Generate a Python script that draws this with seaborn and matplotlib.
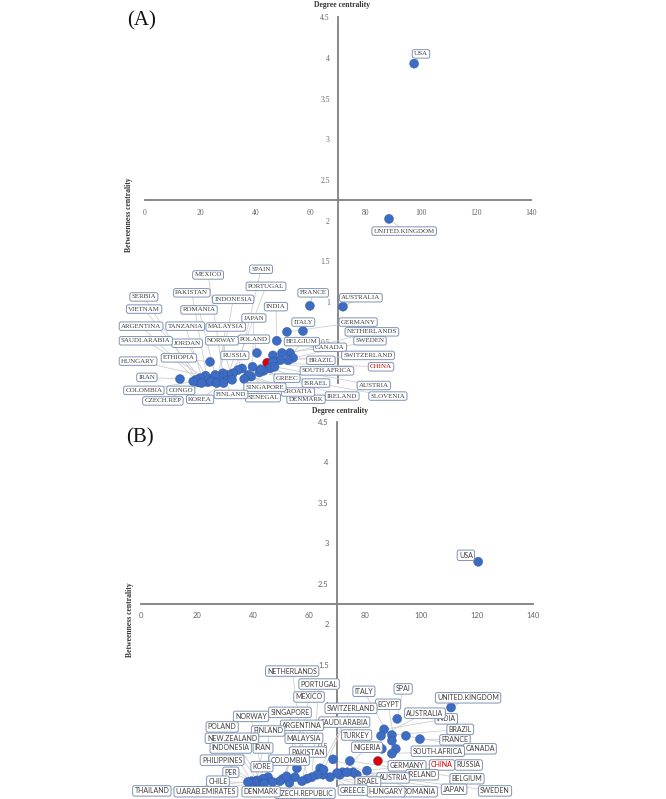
import matplotlib
matplotlib.use("Agg")
import matplotlib.pyplot as plt
import seaborn as sns
import pandas as pd

# ---------------- Panel A data ----------------
countries_a = ["USA", "UNITED.KINGDOM", "AUSTRALIA", "FRANCE", "ITALY", "GERMANY", "INDIA",
               "POLAND", "NETHERLANDS", "SWEDEN", "CANADA", "BELGIUM", "SWITZERLAND", "BRAZIL",
               "CHINA", "SOUTH.AFRICA", "ISRAEL", "AUSTRIA", "IRELAND", "SLOVENIA", "DENMARK",
               "CROATIA", "GREEC", "SINGAPORE", "SENEGAL", "SPAIN", "PORTUGAL", "JAPAN", "RUSSIA",
               "FINLAND", "MEXICO", "INDONESIA", "MALAYSIA", "NORWAY", "ETHIOPIA", "HUNGARY",
               "ROMANIA", "PAKISTAN", "TANZANIA", "JORDAN", "SERBIA", "VIETNAM", "ARGENTINA",
               "SAUDI.ARABIA", "IRAN", "COLOMBIA", "CONGO", "KOREA", "CZECH.REP"]
degree_a = [97.6, 88.5, 71.8, 59.8, 57.3, 51.5, 47.8,
            40.6, 52.6, 53.7, 49.7, 51.9, 49.0, 46.4,
            44.3, 46.4, 45.3, 47.0, 43.0, 41.5, 38.5,
            37.4, 42.0, 35.2, 36.0, 33.7, 31.9, 39.0, 30.1,
            29.0, 28.3, 27.0, 26.5, 31.6, 23.6, 24.7,
            25.5, 22.8, 21.0, 22.0, 19.2, 20.0, 18.5,
            24.0, 12.7, 17.5, 26.0, 28.5, 20.5]
betweenness_a = [3.93, 2.02, 0.94, 0.95, 0.64, 0.63, 0.52,
                 0.37, 0.37, 0.31, 0.37, 0.28, 0.28, 0.34,
                 0.25, 0.26, 0.18, 0.20, 0.15, 0.13, 0.08,
                 0.10, 0.17, 0.18, 0.05, 0.16, 0.12, 0.20, 0.10,
                 0.05, 0.12, 0.08, 0.04, 0.04, 0.26, 0.06,
                 0.10, 0.01, 0.04, 0.09, 0.01, 0.06, 0.04,
                 0.02, 0.05, 0.02, 0.00, 0.00, 0.00]
# label placement (layout)
lab_x_a = [100.1, 94.0, 78.3, 61.0, 57.4, 77.3, 47.5,
           39.5, 82.3, 81.6, 67.1, 56.9, 80.9, 63.8,
           85.6, 66.0, 62.0, 83.0, 71.5, 88.1, 58.4,
           55.5, 51.5, 43.5, 42.8, 42.1, 43.9, 39.5, 32.6,
           31.2, 22.9, 32.0, 29.3, 27.9, 12.3, -2.5,
           19.6, 17.0, 14.6, 15.3, -0.4, -0.3, -1.4,
           0.3, 0.7, -0.4, 13.0, 20.0, 6.5]
lab_y_a = [4.05, 1.87, 1.05, 1.11, 0.75, 0.75, 0.94,
           0.54, 0.63, 0.52, 0.44, 0.51, 0.34, 0.28,
           0.20, 0.15, 0.00, -0.03, -0.16, -0.16, -0.20,
           -0.11, 0.06, -0.05, -0.18, 1.40, 1.19, 0.80, 0.34,
           -0.14, 1.33, 1.03, 0.69, 0.52, 0.31, 0.27,
           0.90, 1.11, 0.70, 0.49, 1.06, 0.91, 0.70,
           0.52, 0.07, -0.09, -0.09, -0.20, -0.22]

# ---------------- Panel B data ----------------
countries_b = ["USA", "UNITED.KINGDOM", "FRANCE", "CANADA", "SPAI", "BRAZIL", "INDIA",
               "AUSTRALIA", "ITALY", "EGYPT", "SOUTH.AFRICA", "TURKEY", "CHINA", "GERMANY",
               "RUSSIA", "IRELAND", "BELGIUM", "NIGERIA", "AUSTRIA", "SWEDEN", "JAPAN",
               "ROMANIA", "ISRAEL", "HUNGARY", "GREECE", "SWITZERLAND", "SAUDI.ARABIA",
               "PORTUGAL", "NETHERLANDS", "MEXICO", "SINGAPORE", "ARGENTINA", "MALAYSIA",
               "PAKISTAN", "CZECH.REPUBLIC", "COLOMBIA", "FINLAND", "NORWAY", "IRAN", "KORE",
               "DENMARK", "POLAND", "NEW.ZEALAND", "INDONESIA", "PHILIPPINES", "PER", "CHILE",
               "U.ARAB.EMIRATES", "THAILAND"]
degree_b = [120.4, 110.7, 99.6, 94.6, 91.5, 89.6, 86.8,
            85.7, 89.6, 91.0, 89.6, 86.0, 84.6, 80.7,
            77.0, 75.7, 74.6, 72.0, 71.0, 73.6, 70.0,
            68.6, 67.5, 65.0, 64.0, 65.2, 62.9,
            61.0, 59.3, 55.7, 55.0, 50.7, 49.6,
            57.5, 53.0, 52.0, 45.4, 43.6, 41.4, 47.0,
            40.2, 42.0, 44.0, 39.5, 41.0, 40.5, 39.5,
            38.8, 38.2]
betweenness_b = [2.77, 0.97, 0.58, 0.62, 0.83, 0.63, 0.70,
                 0.62, 0.56, 0.46, 0.40, 0.46, 0.31, 0.19,
                 0.14, 0.17, 0.31, 0.17, 0.14, 0.17, 0.16,
                 0.33, 0.11, 0.14, 0.22, 0.20, 0.14,
                 0.11, 0.09, 0.22, 0.11, 0.09, 0.06,
                 0.06, 0.04, 0.12, 0.11, 0.09, 0.07, 0.05,
                 0.05, 0.04, 0.03, 0.06, 0.03, 0.05, 0.04,
                 0.03, 0.05]
lab_x_b = [116.0, 116.8, 112.1, 121.0, 93.6, 114.0, 109.0,
           101.4, 79.6, 88.2, 106.0, 77.0, 107.5, 95.0,
           117.0, 100.4, 116.4, 80.7, 90.0, 126.4, 111.8,
           99.3, 81.0, 87.5, 75.7, 75.0, 72.6,
           63.6, 54.0, 60.0, 53.2, 57.5, 58.2,
           59.6, 58.6, 52.9, 45.4, 39.3, 43.6, 43.2,
           42.9, 29.0, 32.5, 32.1, 29.0, 32.1, 27.5,
           23.2, 3.9]
lab_y_b = [2.85, 1.09, 0.57, 0.46, 1.20, 0.70, 0.83,
           0.90, 1.17, 1.01, 0.43, 0.63, 0.26, 0.25,
           0.26, 0.14, 0.09, 0.48, 0.10, -0.06, -0.04,
           -0.07, 0.05, -0.07, -0.05, 0.96, 0.79,
           1.26, 1.42, 1.10, 0.91, 0.75, 0.59,
           0.42, -0.09, 0.32, 0.68, 0.86, 0.47, 0.24,
           -0.07, 0.73, 0.59, 0.47, 0.32, 0.17, 0.06,
           -0.07, -0.06]

x_ticks = [0, 20, 40, 60, 80, 100, 120, 140]
y_ticks = [0.5, 1, 1.5, 2, 2.5, 3, 3.5, 4, 4.5]

sns.set_theme(style="white")

fig = plt.figure(figsize=(6.66, 7.99), dpi=100)
W, H = 666, 799


def panel(rect, countries, deg, btw, lx, ly, xlim, ylim, font, letter, letter_pos,
          title_y, ylab_pos):
    ax = fig.add_axes(rect)
    ax.set_facecolor("none")
    df = pd.DataFrame({"country": countries, "degree": deg, "betweenness": btw})
    df["grp"] = ["china" if c == "CHINA" else "other" for c in countries]
    # leader lines
    for i in range(len(countries)):
        ax.plot([lx[i], deg[i]], [ly[i], btw[i]], color="#cfcfcf", lw=0.6, zorder=1)
    sns.scatterplot(data=df, x="degree", y="betweenness", hue="grp",
                    palette={"other": "#3d6cc4", "china": "#e00000"},
                    s=42, edgecolor="#2f5597", linewidth=0.3, legend=False, ax=ax, zorder=3)
    for i, c in enumerate(countries):
        ax.text(lx[i], ly[i], c, fontsize=5, family=font, ha="center", va="center",
                color="#d00000" if c == "CHINA" else "#404040", zorder=4,
                bbox=dict(boxstyle="round,pad=0.25,rounding_size=0.3", fc="white",
                          ec="#7f93b2", lw=0.7))
    ax.set_xlim(*xlim)
    ax.set_ylim(*ylim)
    for s in ["top", "right"]:
        ax.spines[s].set_visible(False)
    ax.spines["left"].set_position(("data", 70))
    ax.spines["bottom"].set_position(("data", 2.25))
    ax.spines["left"].set_bounds(0, 4.5)
    ax.spines["bottom"].set_bounds(0, 140)
    for s in ["left", "bottom"]:
        ax.spines[s].set_color("#7f7f7f")
        ax.spines[s].set_linewidth(1.3)
        ax.spines[s].set_zorder(0)
    ax.set_xticks(x_ticks)
    ax.set_yticks(y_ticks)
    ax.set_xticklabels([str(v) for v in x_ticks])
    ax.set_yticklabels([("%g" % v) for v in y_ticks])
    ax.tick_params(axis="both", length=0, labelsize=5.5, colors="#666666", pad=6)
    for lab in ax.get_xticklabels() + ax.get_yticklabels():
        lab.set_family(font)
    ax.set_xlabel("")
    ax.set_ylabel("")
    ax.grid(False)
    # titles
    fig.text(title_y[0] / W, 1 - title_y[1] / H, "Degree centrality", fontsize=5.5,
             family="Liberation Serif", weight="bold", color="#333333", ha="center", va="center")
    fig.text(ylab_pos[0] / W, 1 - ylab_pos[1] / H, "Betweenness centrality", fontsize=5.5,
             family="Liberation Serif", weight="bold", color="#333333", ha="center",
             va="center", rotation=90)
    fig.text(letter_pos[0] / W, 1 - letter_pos[1] / H, letter, fontsize=15,
             family="Liberation Serif", color="#111111", ha="center", va="center")
    return ax


panel([100 / W, 1 - 405 / H, 460 / W, 395 / H], countries_a, degree_a, betweenness_a,
      lab_x_a, lab_y_a, (-16.3, 150.5), (-0.27, 4.59), "Liberation Serif", "(A)", (142, 21),
      (342, 5), (129, 215))
panel([100 / W, 0, 460 / W, 387 / H], countries_b, degree_b, betweenness_b,
      lab_x_b, lab_y_b, (-14.6, 149.6), (-0.16, 4.62), "Lato", "(B)", (140, 438),
      (340, 411), (130, 620))

fig.savefig("out.png", dpi=100)
